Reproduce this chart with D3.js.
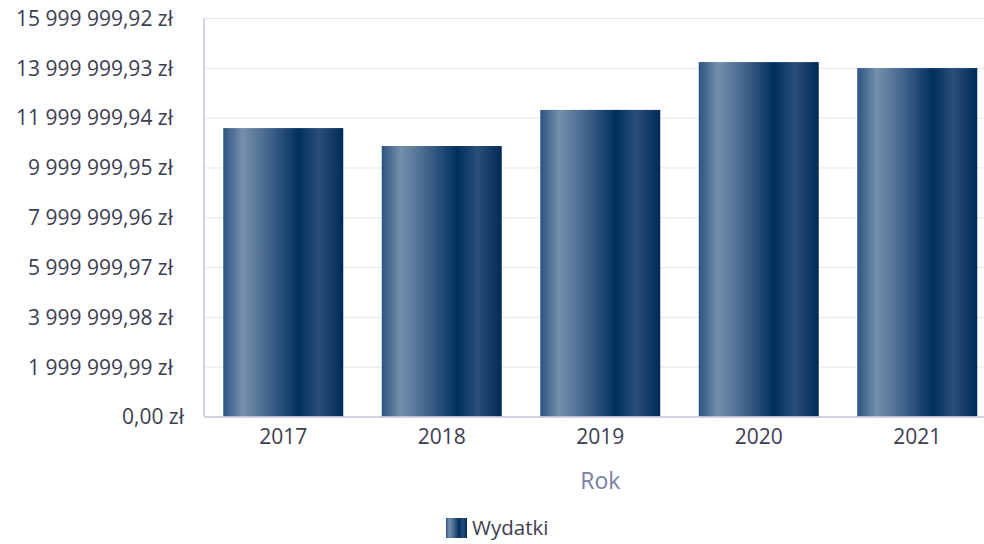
<!DOCTYPE html>
<html>

<head>
  <title>Wydatki</title>
  <script src="https://cdn.jsdelivr.net/npm/d3@7/dist/d3.min.js"></script>
  <style>
    body { margin: 0; background: #fff; }
    text { font-family: "Open Sans", sans-serif; }
  </style>
</head>

<body>
  <svg width="984" height="544" id="mainsvg"></svg>
  <script>
    // data
    const years = ['2017', '2018', '2019', '2020', '2021'];
    const spending = [11580000, 10860000, 12310000, 14230000, 13990000];
    const yTicks = [0, 1999999.99, 3999999.98, 5999999.97, 7999999.96, 9999999.95, 11999999.94, 13999999.93, 15999999.92];
    const seriesName = 'Wydatki';
    const xTitle = 'Rok';

    const svg = d3.select('#mainsvg');
    const margin = { top: 18, left: 204, bottom: 127.5 };
    const plotRight = 996.5; // plot runs a little past the window edge
    const plotBottom = 544 - margin.bottom;

    const pl = d3.formatLocale({ decimal: ',', thousands: ' ', grouping: [3], currency: ['', ''] });
    const fmt = (v) => pl.format(',.2f')(v) + ' zł';

    const xScale = d3.scaleBand()
      .domain(years)
      .range([margin.left, plotRight])
      .paddingInner(0.243)
      .paddingOuter(0.1215);

    const yScale = d3.scaleLinear()
      .domain([0, d3.max(yTicks)])
      .range([plotBottom, margin.top]);

    // gradient for the bars
    const defs = svg.append('defs');
    const grad = defs.append('linearGradient')
      .attr('id', 'barGrad')
      .attr('x1', '0%').attr('x2', '100%').attr('y1', '0%').attr('y2', '0%');
    [[0, '#2c5380'], [0.16, '#7590ac'], [0.4, '#3d6088'], [0.63, '#00305f'], [0.8, '#2a4f79'], [1, '#002a57']]
      .forEach(s => grad.append('stop').attr('offset', s[0]).attr('stop-color', s[1]));

    // gridlines
    const yAxis = d3.axisLeft(yScale)
      .tickValues(yTicks)
      .tickSize(-(plotRight - margin.left))
      .tickFormat(fmt)
      .tickPadding(0);
    const yg = svg.append('g')
      .attr('transform', `translate(${margin.left},0)`)
      .call(yAxis);
    yg.select('.domain').remove();
    yg.selectAll('.tick line').attr('stroke', '#e6e6f0');
    yg.selectAll('.tick text')
      .attr('fill', '#3d3d52')
      .attr('font-size', 21)
      .attr('dy', '0.35em')
      .attr('x', function () {
        // long labels sit a bit further left
        return this.getComputedTextLength() > 120 ? -31 : -20;
      });

    // bars
    svg.append('g')
      .selectAll('rect')
      .data(spending)
      .join('rect')
      .attr('x', (d, i) => xScale(years[i]))
      .attr('y', d => yScale(d))
      .attr('width', xScale.bandwidth())
      .attr('height', d => plotBottom - yScale(d))
      .attr('fill', 'url(#barGrad)');

    // axes lines
    svg.append('line')
      .attr('x1', margin.left).attr('x2', margin.left)
      .attr('y1', margin.top).attr('y2', plotBottom)
      .attr('stroke', '#c6c6dc').attr('stroke-width', 1.5);

    const xAxis = d3.axisBottom(xScale).tickSize(0).tickPadding(13);
    const xg = svg.append('g')
      .attr('transform', `translate(0,${plotBottom})`)
      .call(xAxis);
    xg.select('.domain').attr('stroke', '#c6c6dc').attr('stroke-width', 1.5);
    xg.selectAll('.tick text')
      .attr('fill', '#3d3d52')
      .attr('font-size', 21);

    // axis title
    svg.append('text')
      .attr('x', (margin.left + plotRight) / 2)
      .attr('y', 489)
      .attr('text-anchor', 'middle')
      .attr('fill', '#7a80a6')
      .attr('font-size', 23)
      .text(xTitle);

    // legend
    const lg = svg.append('g').attr('transform', 'translate(446,518)');
    lg.append('rect')
      .attr('width', 21).attr('height', 20)
      .attr('fill', 'url(#barGrad)');
    lg.append('text')
      .attr('x', 26).attr('y', 17)
      .attr('fill', '#3d3d52')
      .attr('font-size', 20.5)
      .text(seriesName);
  </script>
</body>

</html>
